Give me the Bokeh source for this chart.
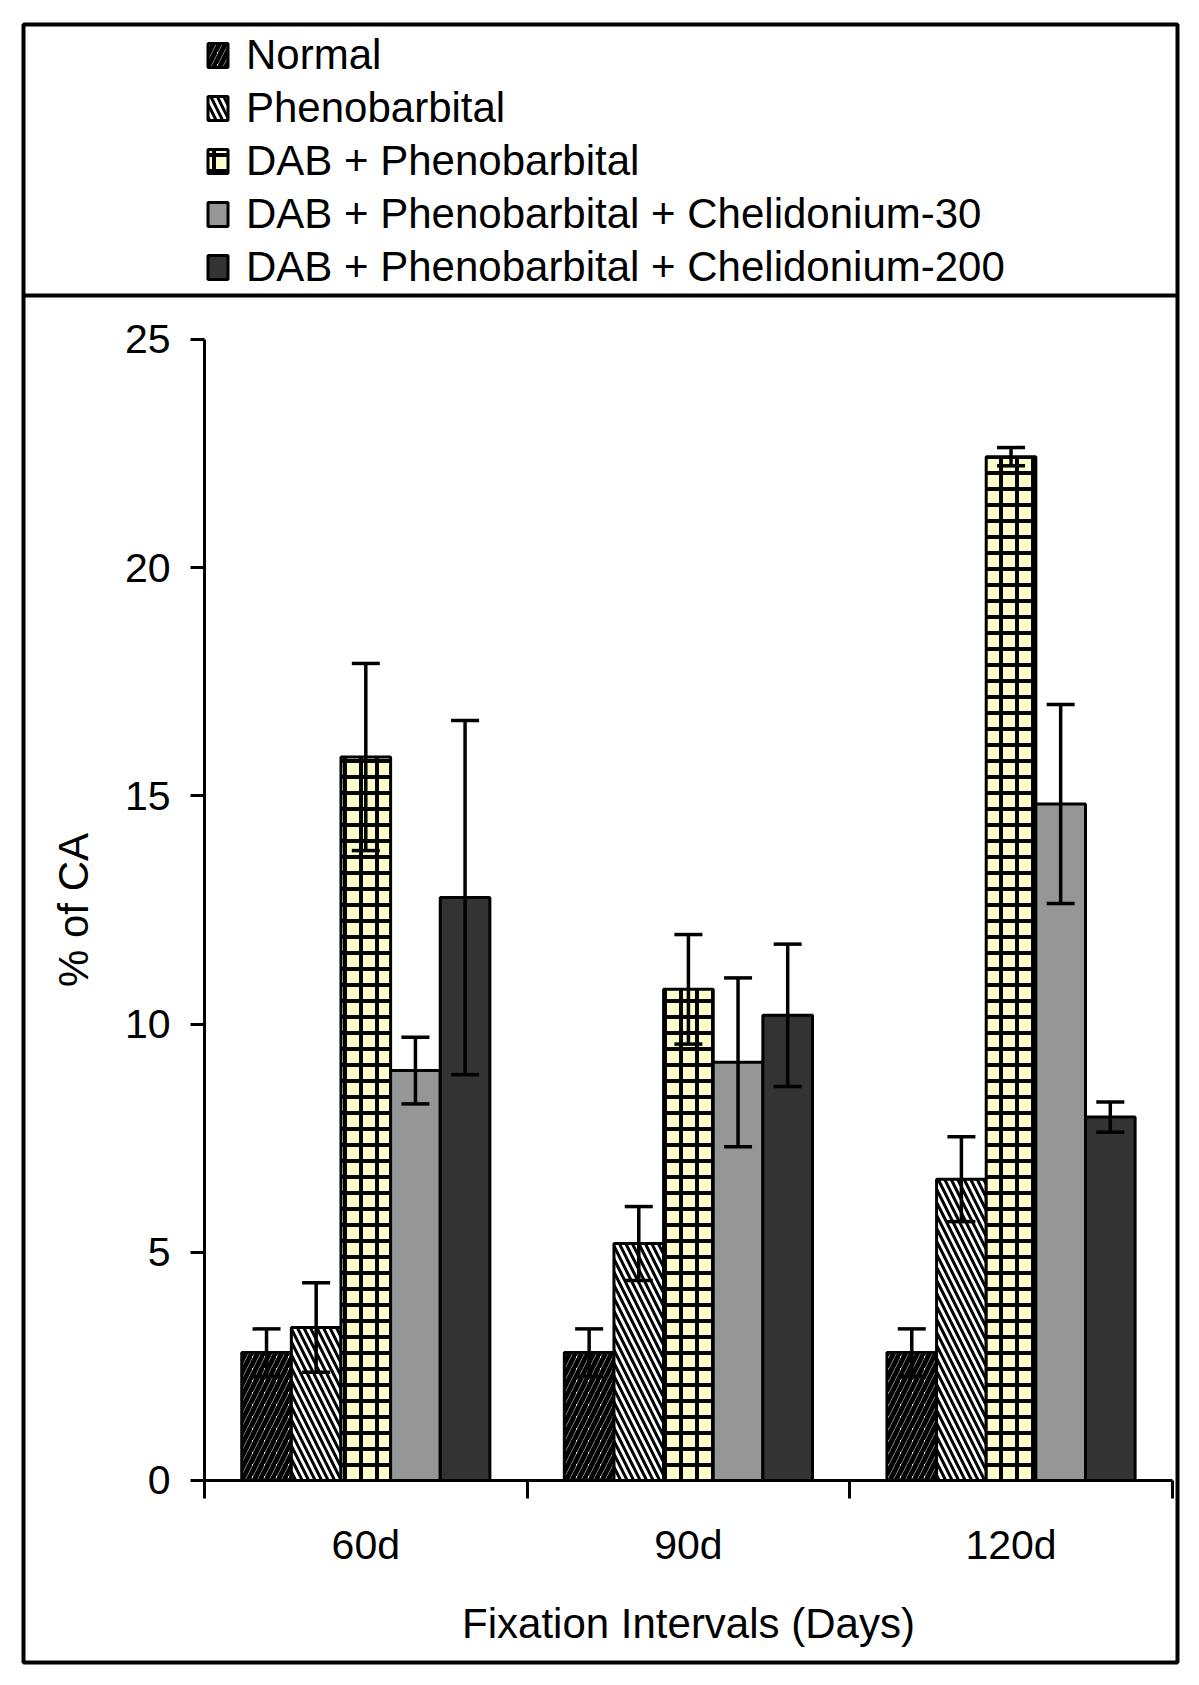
import numpy as np
from bokeh.plotting import figure
from bokeh.models import (ColumnDataSource, Range1d, FixedTicker, Whisker, TeeHead,
                          Legend, LegendItem, Span)
from bokeh.embed import file_html
from bokeh.resources import INLINE

# ---------------- data ----------------
categories = ["60d", "90d", "120d"]
series_names = [
    "Normal",
    "Phenobarbital",
    "DAB + Phenobarbital",
    "DAB + Phenobarbital + Chelidonium-30",
    "DAB + Phenobarbital + Chelidonium-200",
]
normal = [2.8, 2.8, 2.8]
normal_err = [0.52, 0.52, 0.52]
pheno = [3.35, 5.19, 6.6]
pheno_err = [0.98, 0.81, 0.93]
dab_pheno = [15.85, 10.76, 22.43]
dab_pheno_err = [2.05, 1.2, 0.2]
cheli30 = [8.98, 9.16, 14.82]
cheli30_err = [0.73, 1.85, 2.18]
cheli200 = [12.77, 10.19, 7.96]
cheli200_err = [3.88, 1.56, 0.33]
y_ticks = [0, 5, 10, 15, 20, 25]
y_max = 25

values = [normal, pheno, dab_pheno, cheli30, cheli200]
errors = [normal_err, pheno_err, dab_pheno_err, cheli30_err, cheli200_err]

# ---------------- styles ----------------
FONT = "Liberation Sans"
bar_styles = [
    dict(fill_color="white", hatch_pattern="/", hatch_color="black", hatch_scale=12, hatch_weight=5),
    dict(fill_color="white", hatch_pattern="\\", hatch_color="black", hatch_scale=13, hatch_weight=3),
    dict(fill_color="#FFFFCC", hatch_pattern="+", hatch_color="black", hatch_scale=16, hatch_weight=4),
    dict(fill_color="#969696"),
    dict(fill_color="#333333"),
]

# The frame of the figure is the chart's outer box; the axes sit inside it.
p = figure(width=1190, height=1680,
           x_range=Range1d(-0.561, 3.016), y_range=Range1d(-3.99, 31.90),
           output_backend="svg", toolbar_location=None,
           min_border_left=23, min_border_right=13, min_border_top=24, min_border_bottom=18)
p.outline_line_color = "black"
p.outline_line_width = 4
p.outline_line_alpha = 1
p.xgrid.grid_line_color = None
p.ygrid.grid_line_color = None
p.background_fill_color = "white"
p.border_fill_color = "white"

centers = np.arange(len(categories)) + 0.5
n = len(series_names)
bar_w = 1.0 / (n + 1.5)

items = []
for i, (name, vals, errs, st) in enumerate(zip(series_names, values, errors, bar_styles)):
    vals = np.array(vals, dtype=float)
    errs = np.array(errs, dtype=float)
    src = ColumnDataSource(dict(x=centers + (i - (n - 1) / 2) * bar_w, top=vals,
                                upper=vals + errs, lower=vals - errs))
    r = p.vbar(x="x", top="top", bottom=0, width=bar_w, source=src,
               line_color="black", line_width=3, **st)
    w = Whisker(source=src, base="x", upper="upper", lower="lower",
                line_color="black", line_width=3.5, level="overlay",
                upper_head=TeeHead(size=28, line_width=3.5, line_color="black"),
                lower_head=TeeHead(size=28, line_width=3.5, line_color="black"))
    p.add_layout(w)
    items.append(LegendItem(label=name, renderers=[r]))

# ---------------- axes (fixed inside the outer box) ----------------
p.xaxis.fixed_location = 0
p.xaxis.bounds = (0, len(categories))
p.xaxis.ticker = FixedTicker(ticks=list(centers), minor_ticks=list(range(len(categories) + 1)))
p.xaxis.major_label_overrides = {float(c): cat for c, cat in zip(centers, categories)}
p.xaxis.major_tick_out = 0
p.xaxis.major_tick_in = 0
p.xaxis.minor_tick_out = 18
p.xaxis.minor_tick_in = 0
p.xaxis.minor_tick_line_width = 3
p.xaxis.minor_tick_line_color = "black"
p.xaxis.major_label_standoff = 24
p.xaxis.axis_label = "Fixation Intervals (Days)"
p.xaxis.axis_label_standoff = 28

p.yaxis.fixed_location = 0
p.yaxis.bounds = (0, y_max)
p.yaxis.ticker = FixedTicker(ticks=y_ticks, minor_ticks=[])
p.yaxis.major_tick_out = 14
p.yaxis.major_tick_in = 0
p.yaxis.minor_tick_out = 0
p.yaxis.minor_tick_in = 0
p.yaxis.major_label_standoff = 20
p.yaxis.axis_label = "% of CA"
p.yaxis.axis_label_standoff = 25

for ax in (p.xaxis, p.yaxis):
    ax.axis_line_width = 3
    ax.axis_line_color = "black"
    ax.major_tick_line_width = 3
    ax.major_tick_line_color = "black"
    ax.major_label_text_font = FONT
    ax.major_label_text_font_size = "41px"
    ax.major_label_text_color = "black"
    ax.axis_label_text_font = FONT
    ax.axis_label_text_font_size = "42px"
    ax.axis_label_text_font_style = "normal"
    ax.axis_label_text_color = "black"

# ---------------- legend (top band of the box) ----------------
legend = Legend(items=items, location=(182, 1370), orientation="vertical",
                label_text_font=FONT, label_text_font_size="42px", label_text_color="black",
                glyph_width=25, glyph_height=30, label_height=50, spacing=3,
                padding=1, margin=0, label_standoff=16,
                border_line_color=None, background_fill_alpha=0)
p.add_layout(legend)

# divider between legend band and chart
p.add_layout(Span(location=25.96, dimension="width", line_color="black", line_width=4))

open("out.html", "w").write(file_html(p, INLINE))
